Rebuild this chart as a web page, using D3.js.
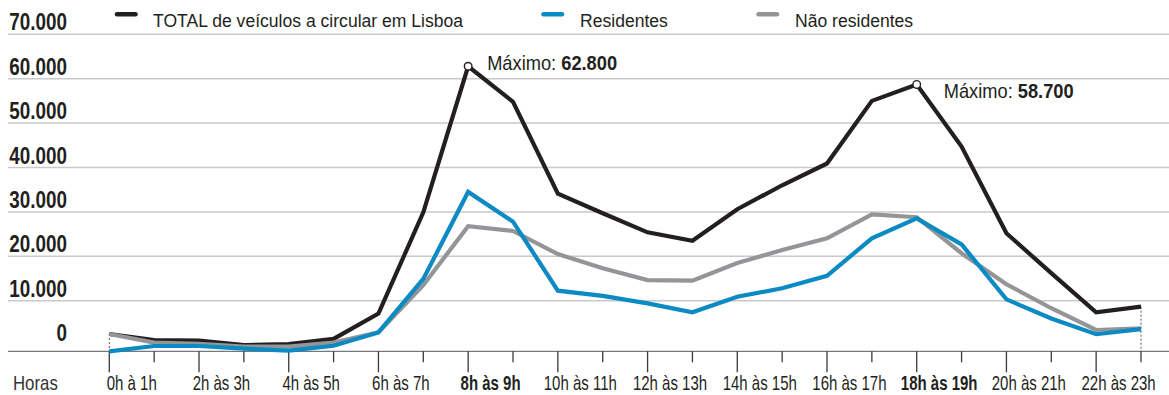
<!DOCTYPE html>
<html lang="pt">
<head>
<meta charset="utf-8">
<script src="https://cdn.jsdelivr.net/npm/d3@7"></script>
<style>
  html, body { margin: 0; padding: 0; background: #fff; }
  svg { display: block; }
  text { font-family: "Liberation Sans", Arial, sans-serif; }
</style>
</head>
<body>
<svg id="chart" width="1169" height="395"></svg>
<script>
// Veículos a circular em Lisboa, por hora do dia
const hours = d3.range(0, 24);
const hourLabels = ["0h à 1h", "2h às 3h", "4h às 5h", "6h às 7h", "8h às 9h", "10h às 11h",
                    "12h às 13h", "14h às 15h", "16h às 17h", "18h às 19h", "20h às 21h", "22h às 23h"];
const boldLabels = ["8h às 9h", "18h às 19h"];

const total = [2500, 1150, 1000, 0, 250, 1400, 7100, 29900, 62800, 54800, 34100, 29700,
               25400, 23500, 30600, 36000, 40900, 55000, 58700, 44700, 25200, 16200, 7400, 8650];
const residentes = [-1400, -200, -200, -800, -1250, -150, 2850, 14900, 34500, 27800, 12250, 11100,
                    9400, 7400, 10900, 12800, 15600, 24050, 28550, 22700, 10300, 6000, 2450, 3600];
const naoResidentes = [2500, 550, 300, -350, -350, 550, 2900, 13500, 26800, 25700, 20500, 17300,
                       14650, 14500, 18500, 21400, 24050, 29450, 28800, 20700, 13700, 8300, 3400, 3800];

const yTicks = [0, 10000, 20000, 30000, 40000, 50000, 60000, 70000];
const peaks = [{ hour: 8, value: 62800 }, { hour: 18, value: 58700 }];
const axisFloor = -1400;

const seriesNames = ["TOTAL de veículos a circular em Lisboa", "Residentes", "Não residentes"];
const seriesColors = ["#231f20", "#0b8ac3", "#939598"];

const fmt = d3.formatLocale({ decimal: ",", thousands: ".", grouping: [3], currency: ["", "€"] }).format(",d");

const svg = d3.select("#chart");
const W = 1169;

// condensed lettering: horizontally squeezed sans
const place = (px, py, sx) => `translate(${px},${py}) scale(${sx},1)`;

const x = d3.scaleLinear().domain([0, 23]).range([109.3, 1141]);
const y = d3.scaleLinear().domain([0, 70000]).range([345.1, 34.3]);
const baseY = y(axisFloor);

// grid
svg.append("g")
  .selectAll("line")
  .data(yTicks.filter(d => d > 0))
  .join("line")
  .attr("x1", 8).attr("x2", W)
  .attr("y1", d => y(d)).attr("y2", d => y(d))
  .attr("stroke", "#c9c9c9").attr("stroke-width", 1.5);

// y labels
svg.append("g")
  .selectAll("text")
  .data(yTicks)
  .join("text")
  .attr("transform", d => place(67, y(d) - 4, 0.82))
  .attr("text-anchor", "end")
  .attr("font-size", 23).attr("font-weight", "bold")
  .attr("fill", "#231f20")
  .text(d => fmt(d));

// x axis
const xAxis = svg.append("g").attr("transform", `translate(0,${baseY})`);
xAxis.append("line")
  .attr("x1", 8).attr("x2", W)
  .attr("stroke", "#77787b").attr("stroke-width", 1.3);
xAxis.selectAll("line.tick")
  .data(hours)
  .join("line")
  .attr("class", "tick")
  .attr("x1", d => x(d)).attr("x2", d => x(d))
  .attr("y1", 0).attr("y2", d => d % 2 === 0 ? 21 : 11)
  .attr("stroke", "#3a3a3a").attr("stroke-width", 1.3);
xAxis.selectAll("text.lab")
  .data(hourLabels)
  .join("text")
  .attr("class", "lab")
  .attr("transform", (d, i) => place(x(i * 2 + 0.5), 39, 0.75))
  .attr("text-anchor", "middle")
  .attr("font-size", 20)
  .attr("font-weight", d => boldLabels.includes(d) ? "bold" : "normal")
  .attr("fill", "#231f20")
  .text(d => d);
xAxis.append("text")
  .attr("transform", place(13, 39, 0.84))
  .attr("font-size", 20)
  .attr("fill", "#333")
  .text("Horas");

// dashed leaders at both ends
const ends = [{ hour: 0, value: total[0] }, { hour: 23, value: total[23] }];
svg.append("g")
  .selectAll("line")
  .data(ends)
  .join("line")
  .attr("x1", d => x(d.hour)).attr("x2", d => x(d.hour))
  .attr("y1", d => y(d.value)).attr("y2", baseY)
  .attr("stroke", "#555").attr("stroke-width", 1)
  .attr("stroke-dasharray", "2,2");

// lines
const line = d3.line().x((d, i) => x(i)).y(d => y(d));
const drawOrder = [
  { data: total, color: seriesColors[0] },
  { data: naoResidentes, color: seriesColors[2] },
  { data: residentes, color: seriesColors[1] }
];
svg.append("g")
  .selectAll("path")
  .data(drawOrder)
  .join("path")
  .attr("d", d => line(d.data))
  .attr("fill", "none")
  .attr("stroke", d => d.color)
  .attr("stroke-width", 4.2)
  .attr("stroke-linejoin", "miter")
  .attr("stroke-miterlimit", 3);

// peak markers and notes
svg.append("g")
  .selectAll("circle")
  .data(peaks)
  .join("circle")
  .attr("cx", d => x(d.hour)).attr("cy", d => y(d.value))
  .attr("r", 3.8)
  .attr("fill", "#fff").attr("stroke", "#231f20").attr("stroke-width", 1.4);

const notes = svg.append("g")
  .selectAll("text")
  .data(peaks)
  .join("text")
  .attr("transform", (d, i) => place(x(d.hour) + (i === 0 ? 19 : 27), y(d.value) + (i === 0 ? 4 : 14), 0.87))
  .attr("font-size", 21)
  .attr("fill", "#231f20");
notes.append("tspan").text("Máximo: ");
notes.append("tspan").attr("font-weight", "bold").text(d => fmt(d.value));

// legend
const legendX = [{ sw: 117, tx: 153 }, { sw: 543.5, tx: 580 }, { sw: 758.5, tx: 795 }];
const legend = svg.append("g")
  .selectAll("g")
  .data(seriesNames)
  .join("g");
legend.append("line")
  .attr("x1", (d, i) => legendX[i].sw).attr("x2", (d, i) => legendX[i].sw + 18.5)
  .attr("y1", 14.3).attr("y2", 14.3)
  .attr("stroke", (d, i) => seriesColors[i])
  .attr("stroke-width", 4.5)
  .attr("stroke-linecap", "round");
legend.append("text")
  .attr("transform", (d, i) => place(legendX[i].tx, 26.7, 0.95))
  .attr("font-size", 18.5)
  .attr("fill", "#231f20")
  .text(d => d);
</script>
</body>
</html>
